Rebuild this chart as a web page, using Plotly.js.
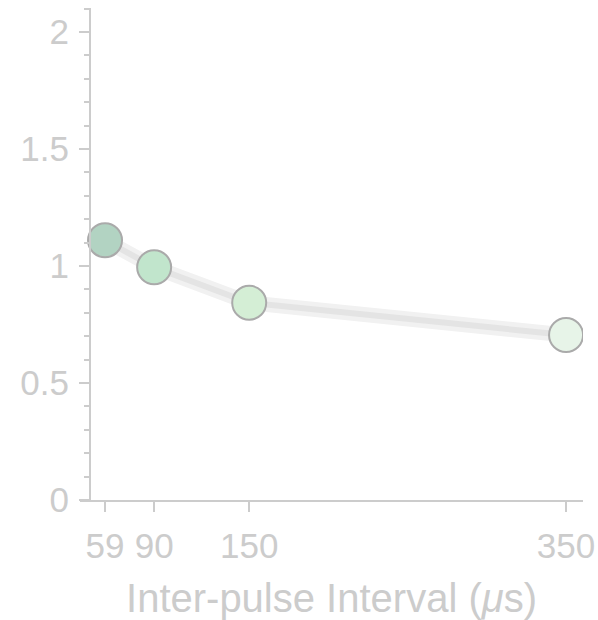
<!DOCTYPE html>
<html>
<head>
<meta charset="utf-8">
<script src="https://cdn.plot.ly/plotly-3.0.1.min.js"></script>
<style>
  html, body { margin: 0; padding: 0; background: #fff; }
  #chart { width: 598px; height: 620px; }
</style>
</head>
<body>
<div id="chart"></div>
<script>
// Inter-pulse interval (µs) and normalised response
const intervals = [59, 90, 150, 350];
const response = [1.11, 0.995, 0.843, 0.705];
const markerFills = ['#b2d3c2', '#c1e5cc', '#d4eed5', '#e7f4e8'];
const xTickVals = [59, 90, 150, 350];
const xTickText = ['59', '90', '150', '350'];
const yTickVals = [0, 0.5, 1, 1.5, 2];
const yTickText = ['0', '0.5', '1', '1.5', '2'];

const grey = '#cccccc';
const font = 'Arial, "Liberation Sans", sans-serif';

const traces = [
  { // soft halo around the trend line
    x: intervals, y: response, mode: 'lines', hoverinfo: 'skip',
    line: { color: '#f1f1f1', width: 15 }, showlegend: false
  },
  { // trend line
    x: intervals, y: response, mode: 'lines', hoverinfo: 'skip',
    line: { color: '#e4e4e4', width: 6 }, showlegend: false
  },
  {
    x: intervals, y: response, mode: 'markers', showlegend: false,
    marker: { size: 34, color: markerFills, line: { color: '#aaaaaa', width: 2 } }
  }
];

const layout = {
  width: 598, height: 620,
  margin: { l: 80, r: 15, t: 8, b: 120 },
  paper_bgcolor: '#ffffff', plot_bgcolor: '#ffffff',
  font: { family: font, color: grey },
  showlegend: false,
  xaxis: {
    range: [43.2, 360.7],
    tickmode: 'array', tickvals: xTickVals, ticktext: xTickText,
    ticks: 'outside', ticklen: 10, tickwidth: 2, tickcolor: grey,
    ticklabelstandoff: 4,
    showline: true, linecolor: grey, linewidth: 2,
    showgrid: false, zeroline: false,
    tickfont: { size: 35, color: grey, family: font },
    title: { text: 'Inter-pulse Interval (<i>μ</i>s)', font: { size: 40, color: grey, family: font }, standoff: 20 }
  },
  yaxis: {
    range: [0, 2.103],
    anchor: 'free', position: 10 / 503,
    tickmode: 'array', tickvals: yTickVals, ticktext: yTickText,
    ticks: 'outside', ticklen: 10, tickwidth: 2, tickcolor: grey,
    ticklabelstandoff: 3,
    minor: { dtick: 0.1, ticks: 'outside', ticklen: 5, tickwidth: 2, tickcolor: grey, showgrid: false },
    showline: true, linecolor: grey, linewidth: 2,
    showgrid: false, zeroline: false,
    tickfont: { size: 35, color: grey, family: font }
  }
};

Plotly.newPlot('chart', traces, layout, { displayModeBar: false, staticPlot: true });
</script>
</body>
</html>
